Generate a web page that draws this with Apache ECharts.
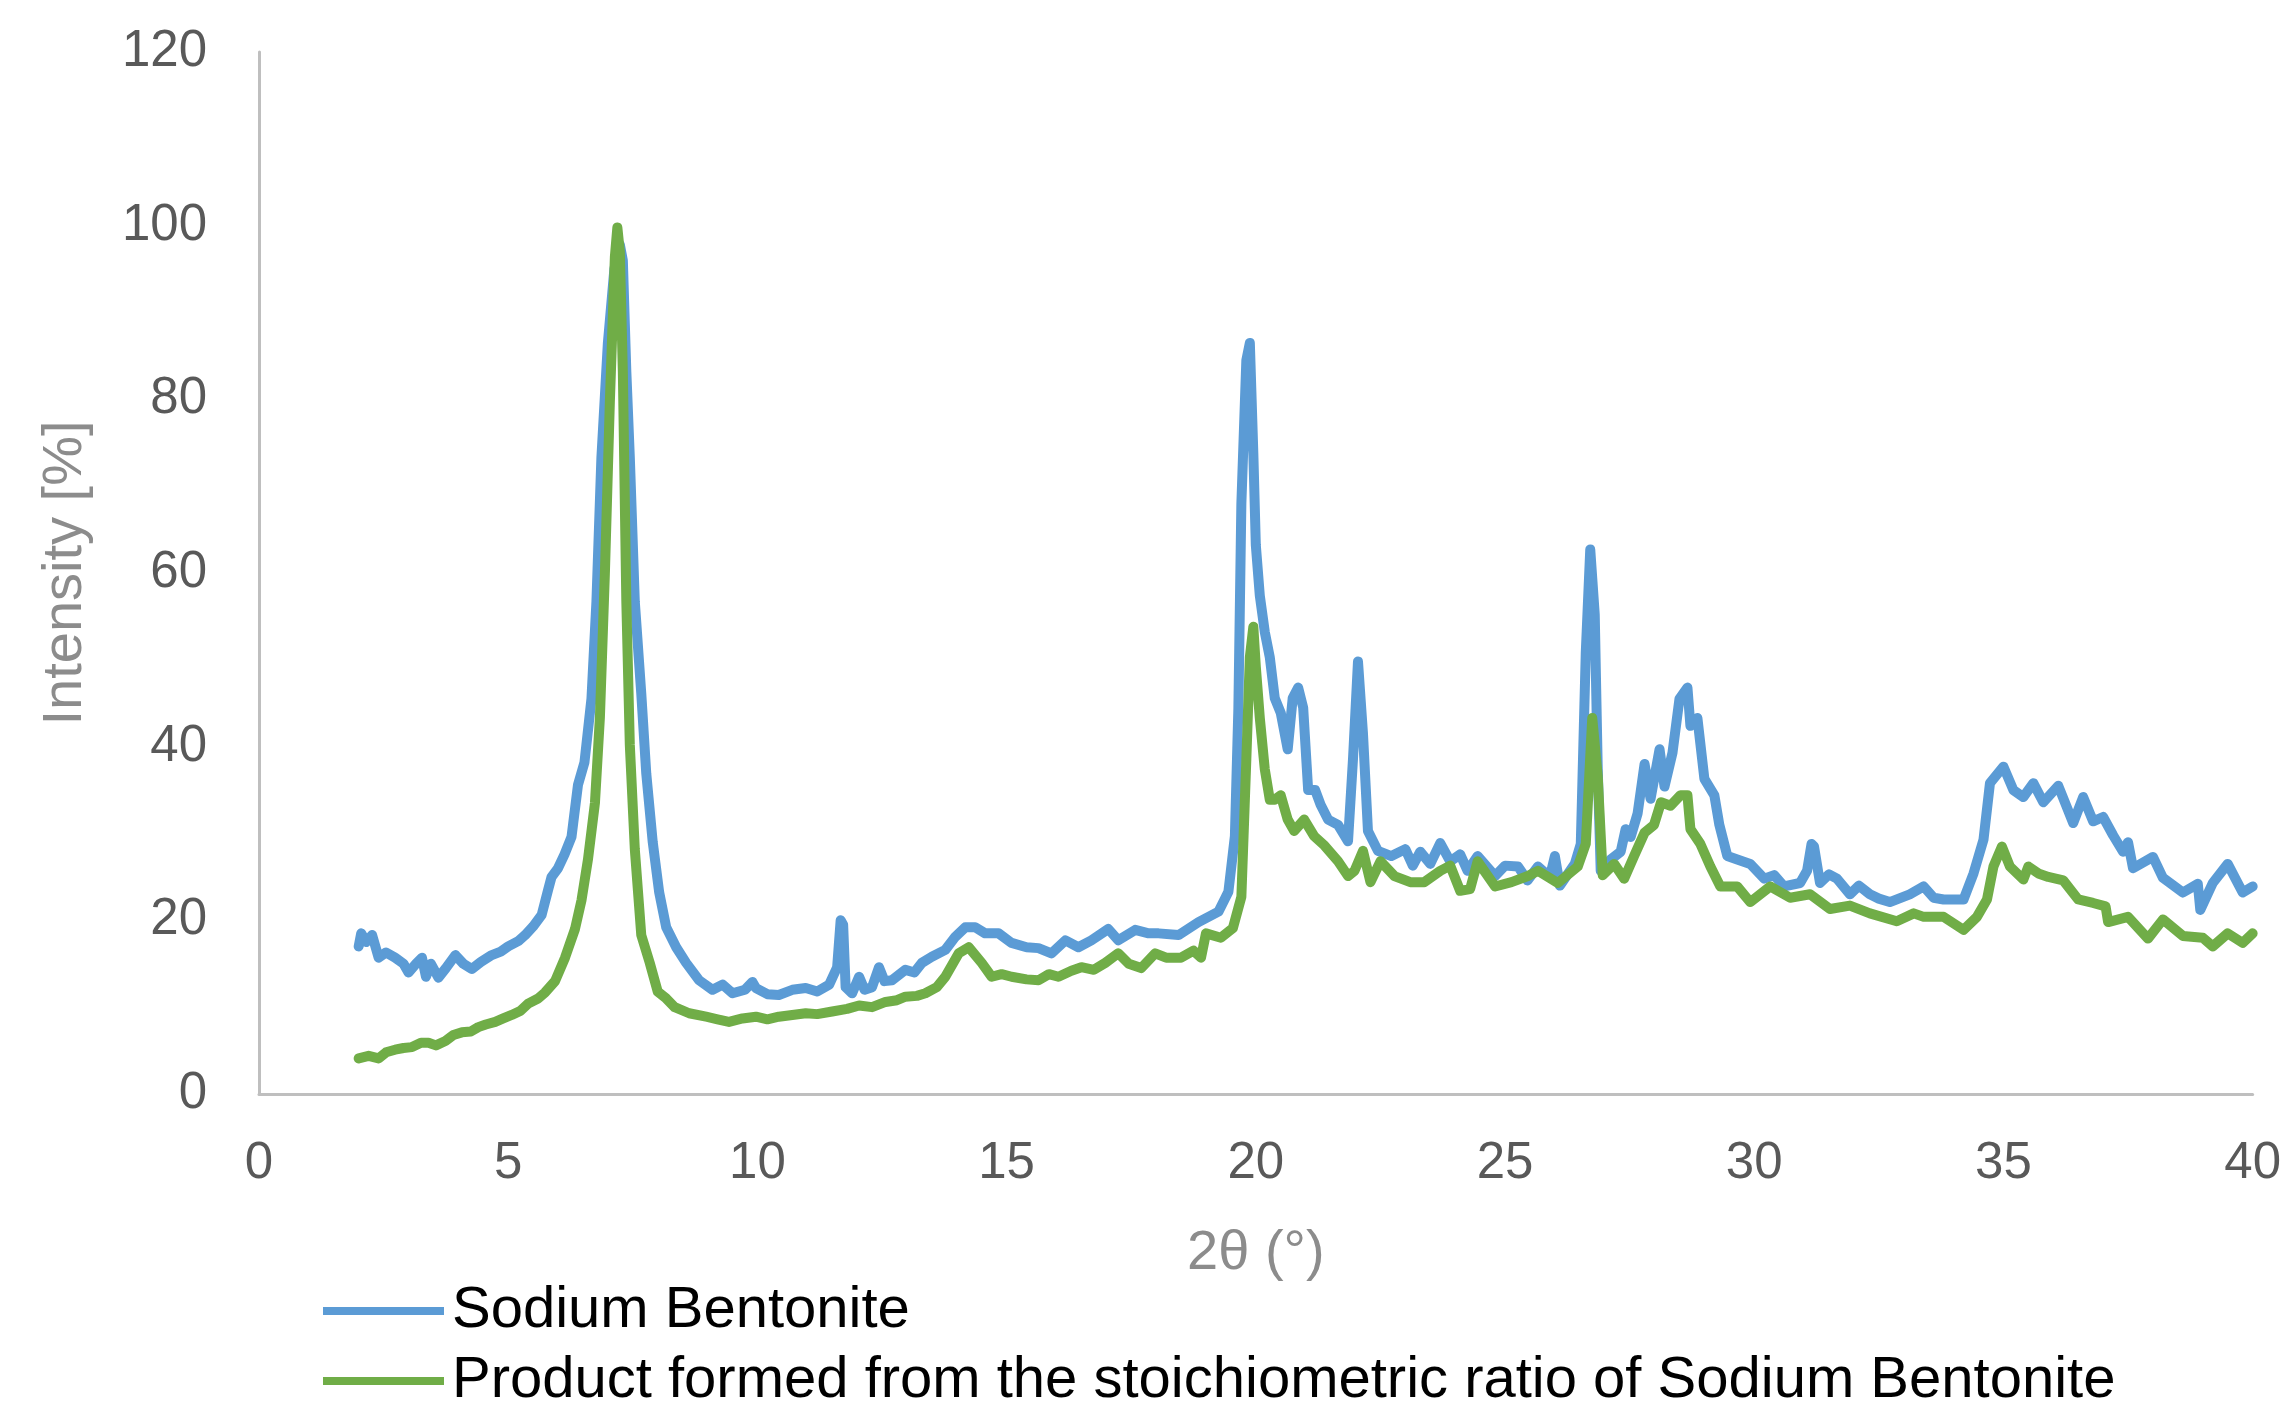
<!DOCTYPE html>
<html>
<head>
<meta charset="utf-8">
<script src="https://cdn.jsdelivr.net/npm/echarts@6/dist/echarts.min.js"></script>
<style>
html,body{margin:0;padding:0;background:#fff;}
#chart{width:2284px;height:1406px;}
</style>
</head>
<body>
<div id="chart"></div>
<script>
// Series names
const seriesNames = ["Sodium Bentonite", "Product formed from the stoichiometric ratio of Sodium Bentonite"];

// Sodium Bentonite: 2θ (°) and intensity (%)
const sbX = [2.0,2.05,2.15,2.27,2.4,2.55,2.73,2.9,3.0,3.15,3.27,3.35,3.45,3.6,3.75,3.94,4.1,4.27,4.45,4.67,4.85,5.0,5.2,5.34,5.5,5.67,5.8,5.87,6.0,6.13,6.27,6.4,6.53,6.67,6.77,6.87,7.0,7.13,7.24,7.3,7.37,7.44,7.54,7.67,7.77,7.9,8.03,8.17,8.37,8.57,8.83,9.1,9.3,9.5,9.75,9.9,9.97,10.2,10.43,10.7,10.97,11.2,11.44,11.6,11.67,11.72,11.77,11.9,12.04,12.15,12.3,12.44,12.55,12.7,12.97,13.15,13.3,13.5,13.77,13.97,14.17,14.37,14.57,14.84,15.1,15.4,15.64,15.9,16.18,16.44,16.7,17.04,17.24,17.58,17.85,18.05,18.45,18.85,19.25,19.45,19.58,19.65,19.71,19.81,19.88,19.95,20.0,20.08,20.18,20.28,20.38,20.5,20.64,20.74,20.85,20.95,21.05,21.19,21.3,21.45,21.65,21.85,21.95,22.05,22.15,22.25,22.45,22.72,23.0,23.15,23.3,23.5,23.7,23.9,24.1,24.25,24.45,24.8,25.0,25.26,25.45,25.66,25.9,26.0,26.1,26.4,26.52,26.62,26.71,26.8,26.86,26.92,27.12,27.32,27.42,27.52,27.66,27.8,27.92,28.1,28.2,28.36,28.5,28.66,28.72,28.86,29.0,29.2,29.3,29.46,29.66,29.92,30.2,30.4,30.6,30.92,31.06,31.15,31.2,31.32,31.5,31.66,31.92,32.1,32.32,32.5,32.72,33.12,33.4,33.6,33.8,34.2,34.4,34.6,34.73,35.0,35.2,35.4,35.6,35.8,36.1,36.4,36.6,36.8,37.0,37.2,37.4,37.5,37.6,38.0,38.2,38.6,38.9,38.95,39.2,39.5,39.8,40.0];
const sbY = [17.0,18.5,17.5,18.3,15.7,16.3,15.7,15.0,14.0,15.0,15.7,13.5,15.0,13.4,14.5,16.0,15.0,14.4,15.2,16.0,16.4,17.0,17.6,18.3,19.3,20.6,23.5,25.0,26.0,27.6,29.6,35.6,38.2,45.5,56.7,73.3,86.5,95.0,97.8,96.0,83.2,73.3,56.7,46.1,36.9,29.0,23.2,19.2,16.9,15.1,13.1,12.0,12.6,11.6,12.0,12.9,12.2,11.5,11.4,12.0,12.2,11.8,12.6,14.6,20.0,19.5,12.3,11.6,13.5,12.0,12.3,14.6,13.0,13.1,14.3,14.0,15.1,15.8,16.6,18.1,19.2,19.2,18.5,18.5,17.4,16.9,16.8,16.2,17.7,16.9,17.7,19.0,17.7,18.9,18.5,18.5,18.3,19.8,21.0,23.3,29.7,44.4,68.0,84.5,86.5,73.8,63.2,57.4,53.2,50.3,45.6,43.9,39.7,45.6,46.8,44.5,35.0,35.0,33.3,31.6,31.0,29.1,38.6,49.8,41.5,30.3,28.0,27.4,28.2,26.3,27.9,26.5,28.9,26.8,27.6,25.7,27.4,25.1,26.3,26.2,24.6,26.2,25.0,27.4,24.0,26.5,28.8,50.8,62.7,55.2,37.5,25.7,27.0,27.9,30.5,29.6,32.3,38.0,34.0,39.7,35.4,39.3,45.5,46.8,42.4,43.3,36.3,34.4,31.0,27.4,27.0,26.5,24.8,25.2,23.9,24.3,25.7,28.8,28.5,24.3,25.3,24.8,23.0,24.0,23.0,22.5,22.1,23.0,23.9,22.6,22.4,22.4,25.4,29.3,35.8,37.7,35.0,34.2,35.8,33.6,35.5,31.2,34.2,31.4,31.9,29.8,27.9,29.0,26.0,27.3,24.9,23.2,24.2,21.2,24.3,26.5,23.2,23.9];

// Product formed from the stoichiometric ratio of Sodium Bentonite
const prX = [2.0,2.2,2.4,2.55,2.73,2.9,3.07,3.25,3.4,3.55,3.74,3.9,4.07,4.25,4.4,4.55,4.74,4.9,5.07,5.25,5.4,5.6,5.74,5.94,6.14,6.34,6.47,6.6,6.74,6.84,6.94,7.04,7.14,7.19,7.24,7.3,7.37,7.44,7.54,7.67,7.84,8.0,8.17,8.34,8.63,8.97,9.2,9.43,9.7,9.97,10.2,10.43,10.7,10.97,11.2,11.5,11.8,12.04,12.3,12.57,12.8,12.97,13.2,13.37,13.6,13.77,14.04,14.24,14.5,14.7,14.9,15.1,15.4,15.64,15.85,16.04,16.3,16.5,16.75,16.98,17.24,17.45,17.7,17.98,18.2,18.5,18.75,18.9,19.0,19.3,19.54,19.71,19.81,19.88,19.95,20.0,20.08,20.18,20.28,20.38,20.5,20.64,20.77,20.97,21.17,21.38,21.65,21.85,21.98,22.15,22.3,22.5,22.78,23.1,23.38,23.7,23.9,24.1,24.3,24.45,24.8,25.13,25.46,25.66,26.06,26.46,26.62,26.75,26.86,26.96,27.19,27.39,27.59,27.8,27.99,28.13,28.32,28.52,28.66,28.72,28.92,29.12,29.32,29.66,29.92,30.32,30.72,31.12,31.52,31.92,32.32,32.86,33.2,33.4,33.8,34.2,34.47,34.67,34.8,34.97,35.13,35.4,35.5,35.7,35.9,36.2,36.5,36.8,37.05,37.1,37.5,37.9,38.2,38.6,39.0,39.2,39.5,39.8,40.0];
const prY = [4.1,4.4,4.1,4.8,5.1,5.3,5.4,5.9,5.9,5.6,6.1,6.8,7.1,7.2,7.7,8.0,8.3,8.7,9.1,9.6,10.4,11.0,11.7,13.0,15.7,19.0,22.3,27.0,33.5,43.4,60.0,79.8,96.4,99.8,97.0,83.2,56.7,40.2,28.2,18.3,15.1,11.8,11.0,10.0,9.3,8.9,8.6,8.3,8.7,8.9,8.6,8.9,9.1,9.3,9.2,9.5,9.8,10.2,10.0,10.6,10.8,11.2,11.3,11.6,12.3,13.5,16.2,16.9,15.1,13.5,13.8,13.5,13.2,13.1,13.8,13.5,14.2,14.6,14.3,15.1,16.2,15.0,14.5,16.2,15.7,15.7,16.5,15.7,18.5,18.0,19.1,22.7,38.6,50.3,53.8,49.2,43.3,37.4,33.9,33.9,34.4,31.6,30.3,31.6,29.7,28.6,26.8,25.1,25.7,28.0,24.4,26.8,25.1,24.4,24.4,25.7,26.3,23.4,23.6,26.8,23.9,24.4,25.1,25.7,24.3,26.2,28.8,43.3,36.6,25.2,26.5,24.8,27.4,30.1,31.0,33.6,33.2,34.4,34.4,30.5,28.8,26.2,23.9,23.9,22.1,23.9,22.6,23.0,21.3,21.7,20.8,19.9,20.8,20.4,20.4,18.9,20.4,22.4,26.2,28.5,26.2,24.7,26.2,25.4,25.0,24.6,22.4,22.0,21.6,19.8,20.4,17.9,20.1,18.2,18.0,17.0,18.5,17.4,18.5];

// Axis settings
const xTicks = {min: 0, max: 40, interval: 5};
const yTicks = {min: 0, max: 120, interval: 20};
const xTitle = "2θ (°)";
const yTitle = "Intensity [%]";

const sbData = sbX.map((x, i) => [x, sbY[i]]);
const prData = prX.map((x, i) => [x, prY[i]]);

const chart = echarts.init(document.getElementById('chart'), null, {renderer: 'canvas'});
const textFont = "'Liberation Sans', Arial, sans-serif";

function legendFor(name, top) {
  return {
    orient: 'vertical',
    left: 323,
    top: top,
    padding: 0,
    icon: 'rect',
    itemWidth: 121,
    itemHeight: 8,
    itemGap: 0,
    textStyle: {fontSize: 58, color: '#000000', fontFamily: textFont, lineHeight: 70, padding: [0, 0, 0, 3]},
    data: [name]
  };
}

chart.setOption({
  animation: false,
  backgroundColor: '#ffffff',
  grid: {left: 259, right: 28, top: 52, bottom: 312, containLabel: false},
  legend: [legendFor(seriesNames[0], 1276), legendFor(seriesNames[1], 1346)],
  xAxis: {
    type: 'value',
    min: xTicks.min, max: xTicks.max, interval: xTicks.interval,
    axisLine: {show: true, lineStyle: {color: '#bfbfbf', width: 3}},
    axisTick: {show: false},
    splitLine: {show: false},
    axisLabel: {fontSize: 51, color: '#595959', fontFamily: textFont, margin: 44},
    name: xTitle,
    nameLocation: 'middle',
    nameGap: 132,
    nameTextStyle: {fontSize: 56, color: '#8c8c8c', fontFamily: textFont}
  },
  yAxis: {
    type: 'value',
    min: yTicks.min, max: yTicks.max, interval: yTicks.interval,
    axisLine: {show: true, lineStyle: {color: '#bfbfbf', width: 3}},
    axisTick: {show: false},
    splitLine: {show: false},
    axisLabel: {fontSize: 51, color: '#595959', fontFamily: textFont, margin: 52},
    name: yTitle,
    nameLocation: 'middle',
    nameRotate: 90,
    nameGap: 165,
    nameTextStyle: {fontSize: 56, color: '#8c8c8c', fontFamily: textFont}
  },
  series: [
    {
      name: seriesNames[0],
      type: 'line',
      data: sbData,
      symbol: 'none',
      showSymbol: false,
      lineStyle: {width: 10, color: '#5B9BD5', join: 'round', cap: 'round'},
      itemStyle: {color: '#5B9BD5'},
      z: 2
    },
    {
      name: seriesNames[1],
      type: 'line',
      data: prData,
      symbol: 'none',
      showSymbol: false,
      lineStyle: {width: 10, color: '#70AD47', join: 'round', cap: 'round'},
      itemStyle: {color: '#70AD47'},
      z: 3
    }
  ]
});
</script>
</body>
</html>
